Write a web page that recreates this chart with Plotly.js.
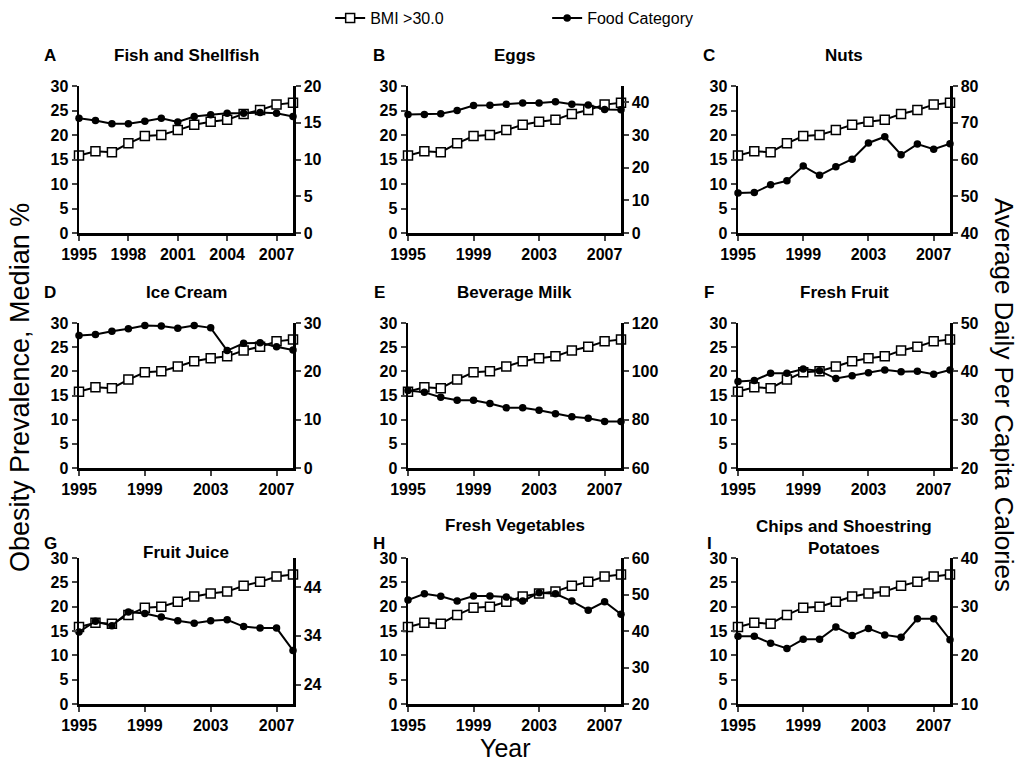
<!DOCTYPE html>
<html>
<head>
<meta charset="utf-8">
<script src="https://cdn.plot.ly/plotly-3.0.1.min.js"></script>
<style>html,body{margin:0;padding:0;background:#fff;}#chart{width:1019px;height:764px;}</style>
</head>
<body>
<div id="chart"></div>
<script>
const years = [1995,1996,1997,1998,1999,2000,2001,2002,2003,2004,2005,2006,2007,2008];
const bmi = [15.8,16.7,16.5,18.3,19.8,20.0,21.0,22.1,22.7,23.1,24.3,25.1,26.2,26.6];
const fishShellfish = [15.6,15.3,14.85,14.85,15.2,15.6,15.1,15.85,16.1,16.3,16.3,16.4,16.3,15.85];
const eggs = [36.3,36.3,36.5,37.5,39.0,39.1,39.4,39.8,39.8,40.2,39.4,39.2,37.8,37.7];
const nuts = [50.9,51.0,53.1,54.2,58.2,55.7,58.0,60.1,64.5,66.2,61.3,64.2,62.8,64.3];
const iceCream = [27.4,27.6,28.3,28.8,29.5,29.4,28.9,29.5,29.0,24.3,25.8,25.9,25.1,24.4];
const beverageMilk = [92.1,91.3,89.3,88.0,88.0,86.7,84.9,84.9,83.9,82.4,81.2,80.6,79.2,79.2];
const freshFruit = [37.9,38.1,39.6,39.6,40.5,40.1,38.5,39.1,39.7,40.3,39.9,40.0,39.4,40.3];
const fruitJuice = [34.8,37.0,36.1,38.9,38.6,37.9,37.1,36.6,37.1,37.3,35.9,35.6,35.6,31.0];
const freshVegetables = [48.5,50.2,49.5,48.2,49.6,49.6,49.3,48.2,50.5,50.2,48.2,45.7,48.0,44.6];
const chipsPotatoes = [23.9,23.9,22.5,21.4,23.3,23.3,25.8,24.1,25.5,24.2,23.7,27.5,27.5,23.2];

const panelLetters = ['A','B','C','D','E','F','G','H','I'];
const panelTitles = ['Fish and Shellfish','Eggs','Nuts','Ice Cream','Beverage Milk','Fresh Fruit','Fruit Juice','Fresh Vegetables','Chips and Shoestring<br>Potatoes'];
const foodSeries = [fishShellfish, eggs, nuts, iceCream, beverageMilk, freshFruit, fruitJuice, freshVegetables, chipsPotatoes];
const rightRanges = [[0,20],[0,45],[40,80],[0,30],[60,120],[20,50],[20,50],[20,60],[10,40]];
const rightTick0 = [0,0,40,0,60,20,24,20,10];
const rightDtick = [5,10,10,10,20,10,10,10,10];
const xDtick = [3,4,4,4,4,4,4,4,4];
const leftTitle = 'Obesity Prevalence, Median %';
const rightTitle = 'Average Daily Per Capita Calories';
const xTitle = 'Year';
const legendNames = ['BMI >30.0','Food Category'];

const W = 1019, H = 764;
const colPx = [[79,293],[408,621],[738,950]];
const rowPx = [[86,233],[323,468],[558,704]];
const FONT = 'Liberation Sans, Arial, sans-serif';
const tickFont = {family: FONT, size: 16, color: '#000', weight: 'bold'};

const data = [];
const layout = {
  width: W, height: H,
  margin: {l:0, r:0, t:0, b:0},
  paper_bgcolor: '#fff', plot_bgcolor: '#fff',
  showlegend: true,
  legend: {orientation: 'h', x: 0.324, xanchor: 'left', y: 1 - 18/H, yanchor: 'middle',
           font: {family: FONT, size: 16, color: '#000'}, entrywidth: 172, itemwidth: 30,
           bgcolor: 'rgba(0,0,0,0)'},
  annotations: []
};

for (let i = 0; i < 9; i++) {
  const r = Math.floor(i / 3), c = i % 3;
  const xd = [colPx[c][0] / W, colPx[c][1] / W];
  const yd = [1 - rowPx[r][1] / H, 1 - rowPx[r][0] / H];
  const xn = i === 0 ? '' : String(i + 1);
  const yl = String(2 * i + 1), yr = String(2 * i + 2);
  const ylName = yl === '1' ? '' : yl;
  layout['xaxis' + xn] = {
    domain: xd, range: [1995, 2008], anchor: 'y' + ylName,
    tick0: 1995, dtick: xDtick[i], ticks: 'outside', ticklen: 5, tickwidth: 2,
    showline: true, linewidth: 2.5, linecolor: '#000', showgrid: false, zeroline: false,
    tickfont: tickFont
  };
  layout['yaxis' + ylName] = {
    domain: yd, range: [0, 30], anchor: 'x' + xn, dtick: 5,
    ticks: 'outside', ticklen: 5, tickwidth: 2,
    showline: true, linewidth: 2.5, linecolor: '#000', showgrid: false, zeroline: false,
    tickfont: tickFont
  };
  layout['yaxis' + yr] = {
    range: rightRanges[i], anchor: 'x' + xn, overlaying: 'y' + ylName, side: 'right',
    tick0: rightTick0[i], dtick: rightDtick[i],
    ticks: 'outside', ticklen: 5, tickwidth: 2,
    showline: true, linewidth: 2.5, linecolor: '#000', showgrid: false, zeroline: false,
    tickfont: tickFont
  };
  data.push({
    x: years, y: bmi, xaxis: 'x' + xn, yaxis: 'y' + ylName, type: 'scatter', mode: 'lines+markers',
    name: legendNames[0], showlegend: i === 0, cliponaxis: false,
    line: {color: '#000', width: 2},
    marker: {symbol: 'square', size: 9, color: '#fff', line: {color: '#000', width: 1.5}}
  });
  data.push({
    x: years, y: foodSeries[i], xaxis: 'x' + xn, yaxis: 'y' + yr, type: 'scatter', mode: 'lines+markers',
    name: legendNames[1], showlegend: i === 0, cliponaxis: false,
    line: {color: '#000', width: 2},
    marker: {symbol: 'circle', size: 7.5, color: '#000'}
  });

  let titleY, letterY;
  if (r < 2) { titleY = r === 0 ? 55 : 292; letterY = titleY; }
  else { letterY = 543; titleY = (i === 6) ? 552 : (i === 7 ? 525 : 537); }
  layout.annotations.push({
    xref: 'paper', yref: 'paper', x: (colPx[c][0] + colPx[c][1]) / 2 / W, y: 1 - titleY / H,
    xanchor: 'center', yanchor: 'middle', showarrow: false, text: panelTitles[i],
    font: {family: FONT, size: 17, color: '#000', weight: 'bold'}
  });
  layout.annotations.push({
    xref: 'paper', yref: 'paper', x: (colPx[c][0] - 29) / W, y: 1 - letterY / H,
    xanchor: 'center', yanchor: 'middle', showarrow: false, text: panelLetters[i],
    font: {family: FONT, size: 17, color: '#000', weight: 'bold'}
  });
}

layout.annotations.push({
  xref: 'paper', yref: 'paper', x: 20 / W, y: 1 - 388 / H, xanchor: 'center', yanchor: 'middle',
  showarrow: false, textangle: -90, text: leftTitle, font: {family: FONT, size: 27, color: '#000'}
});
layout.annotations.push({
  xref: 'paper', yref: 'paper', x: 1004 / W, y: 1 - 395 / H, xanchor: 'center', yanchor: 'middle',
  showarrow: false, textangle: 90, text: rightTitle, font: {family: FONT, size: 26, color: '#000'}
});
layout.annotations.push({
  xref: 'paper', yref: 'paper', x: 505 / W, y: 1 - 748 / H, xanchor: 'center', yanchor: 'middle',
  showarrow: false, text: xTitle, font: {family: FONT, size: 25, color: '#000'}
});

Plotly.newPlot('chart', data, layout, {displayModeBar: false, staticPlot: true});
</script>
</body>
</html>
